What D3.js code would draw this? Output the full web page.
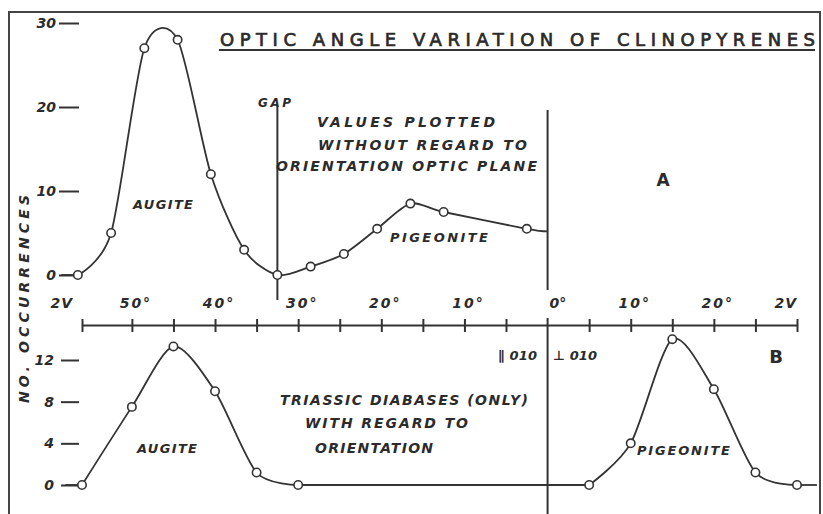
<!DOCTYPE html>
<html>
<head>
<meta charset="utf-8">
<script src="https://cdn.jsdelivr.net/npm/d3@7"></script>
<style>
  body { margin: 0; background: #fff; }
  text { font-family: "DejaVu Sans", sans-serif; fill: #2b2b2b; }
  .hand { font-style: italic; font-weight: bold; }
</style>
</head>
<body>
<script>

// ================================ data
// 2V in degrees; A (all values) plotted on the left side of 0
var angleA = [56.5, 52.5, 48.5, 44.5, 40.5, 36.5, 32.5, 28.5, 24.5, 20.5, 16.5, 12.5, 2.5];
var countA = [0, 5, 27, 28, 12, 3, 0, 1, 2.5, 5.5, 8.5, 7.5, 5.5];
// line carried on to the 0 line
var endA = { angle: 0, count: 5.2 };
var gapAngle = 32.5;

// B: augite = parallel 010 (left), pigeonite = perp 010 (right)
var angleAugiteB = [56, 50, 45, 40, 35, 30];
var countAugiteB = [0, 7.5, 13.3, 9, 1.2, 0];
var anglePigeoniteB = [5, 10, 15, 20, 25, 30];
var countPigeoniteB = [0, 4, 14, 9.2, 1.2, 0];

// axis stuff
var xTickValues = [-56, -50, -45, -40, -35, -30, -25, -20, -15, -10, -5, 5, 10, 15, 20, 25, 30];
var xLabelValues = [-50, -40, -30, -20, -10, 10, 20];
var yTicksA = [0, 10, 20, 30];
var yTicksB = [0, 4, 8, 12];

// ================================ svg
var svgWidth = 823;
var svgHeight = 514;

var svg = d3.select("body")
  .append("svg")
  .attr("width", svgWidth)
  .attr("height", svgHeight);

svg.append("rect")
  .attr("width", svgWidth).attr("height", svgHeight)
  .attr("fill", "#fff");

// frame (bottom edge falls outside the picture)
svg.append("rect")
  .attr("x", 9).attr("y", 12)
  .attr("width", 811).attr("height", 520)
  .attr("fill", "none")
  .attr("stroke", "#444")
  .attr("stroke-width", 2);

// ================================ scales
// negative = left of 0 line
var x = d3.scaleLinear().domain([-56, 30]).range([82, 797]);
var yA = d3.scaleLinear().domain([0, 30]).range([275, 23]);
var yB = d3.scaleLinear().domain([0, 12]).range([485, 360]);

var ink = "#333";

// ================================ middle 2V axis
var xAxis = d3.axisBottom(x)
  .tickValues(xTickValues)
  .tickSizeInner(7)
  .tickSizeOuter(0)
  .tickFormat("");

var xAxisG = svg.append("g")
  .attr("transform", "translate(0, 325)")
  .call(xAxis);
xAxisG.select(".domain").attr("stroke", ink).attr("stroke-width", 2);
xAxisG.selectAll(".tick line")
  .attr("y1", -6)
  .attr("stroke", ink)
  .attr("stroke-width", 2);

svg.selectAll(".xlab")
  .data(xLabelValues)
  .enter()
  .append("text")
  .attr("class", "xlab hand")
  .attr("x", d => x(d) + 4)
  .attr("y", 308)
  .attr("text-anchor", "middle")
  .attr("font-size", 14)
  .attr("letter-spacing", 2)
  .text(d => Math.abs(d) + "°");

svg.append("text").attr("class", "hand")
  .attr("x", x(0) + 2).attr("y", 308)
  .attr("font-size", 14)
  .text("0°");

svg.append("text").attr("class", "hand")
  .attr("x", x(-56) - 9).attr("y", 308)
  .attr("text-anchor", "end")
  .attr("font-size", 14)
  .attr("letter-spacing", 1)
  .text("2V");

svg.append("text").attr("class", "hand")
  .attr("x", x(30)).attr("y", 308)
  .attr("text-anchor", "end")
  .attr("font-size", 14)
  .attr("letter-spacing", 1)
  .text("2V");

// 0 line and gap line
svg.append("line")
  .attr("x1", x(0)).attr("x2", x(0))
  .attr("y1", 110).attr("y2", 290)
  .attr("stroke", ink).attr("stroke-width", 2);
svg.append("line")
  .attr("x1", x(0)).attr("x2", x(0))
  .attr("y1", 318).attr("y2", 514)
  .attr("stroke", ink).attr("stroke-width", 2);
svg.append("line")
  .attr("x1", x(-gapAngle)).attr("x2", x(-gapAngle))
  .attr("y1", 106).attr("y2", 300)
  .attr("stroke", ink).attr("stroke-width", 2);

// ================================ y axes
var leftA = d3.axisLeft(yA).tickValues(yTicksA).tickSize(20).tickPadding(3);
var gA = svg.append("g").attr("transform", "translate(79, 0)").call(leftA);

var leftB = d3.axisLeft(yB).tickValues(yTicksB).tickSize(18).tickPadding(7);
var gB = svg.append("g").attr("transform", "translate(79, 0)").call(leftB);

[gA, gB].forEach(function (g) {
  g.select(".domain").remove();
  g.selectAll(".tick line").attr("stroke", ink).attr("stroke-width", 2);
  g.selectAll(".tick text")
    .attr("class", "hand")
    .attr("font-family", null)
    .attr("font-size", 14)
    .attr("fill", "#2b2b2b");
});

svg.append("text").attr("class", "hand")
  .attr("transform", "translate(29, 299) rotate(-90)")
  .attr("text-anchor", "middle")
  .attr("font-size", 14)
  .attr("textLength", 208)
  .attr("lengthAdjust", "spacing")
  .text("NO. OCCURRENCES");

// ================================ curves
var smooth = d3.curveCardinal.tension(0.2);

var lineA = d3.line()
  .x(d => x(-d.angle))
  .y(d => yA(d.count))
  .curve(smooth);

var lineB = d3.line()
  .x(d => x(d.angle))
  .y(d => yB(d.count))
  .curve(smooth);

var straightB = d3.line().x(d => x(d.angle)).y(d => yB(d.count));
var straightA = d3.line().x(d => x(-d.angle)).y(d => yA(d.count));

var dataA = angleA.map((a, i) => ({ angle: a, count: countA[i] }));
var augB = angleAugiteB.map((a, i) => ({ angle: -a, count: countAugiteB[i] }));
var pigB = anglePigeoniteB.map((a, i) => ({ angle: a, count: countPigeoniteB[i] }));

// leading / trailing zero runs
var leadA = { angle: 58.5, count: 0 };
var leadB = { angle: -58, count: 0 };
var tailB = { angle: 32.4, count: 0 };

function draw(pts, gen) {
  svg.append("path")
    .datum(pts)
    .attr("d", gen)
    .attr("fill", "none").attr("stroke", ink).attr("stroke-width", 1.8);
}

draw([leadA, dataA[0]], straightA);
draw(dataA.concat([endA]), lineA);

draw([leadB, augB[0]], straightB);
draw(augB, lineB);
draw([augB[augB.length - 1], pigB[0]], straightB);
draw(pigB, lineB);
draw([pigB[pigB.length - 1], tailB], straightB);

// open circles
svg.selectAll(".ptA")
  .data(dataA)
  .enter()
  .append("circle")
  .attr("class", "ptA")
  .attr("cx", d => x(-d.angle))
  .attr("cy", d => yA(d.count))
  .attr("r", 4.2)
  .attr("fill", "#fff").attr("stroke", ink).attr("stroke-width", 1.6);

svg.selectAll(".ptB")
  .data(augB.concat(pigB))
  .enter()
  .append("circle")
  .attr("class", "ptB")
  .attr("cx", d => x(d.angle))
  .attr("cy", d => yB(d.count))
  .attr("r", 4.2)
  .attr("fill", "#fff").attr("stroke", ink).attr("stroke-width", 1.6);

// ================================ lettering
function label(txt, xPos, yPos, size, len, cls) {
  var t = svg.append("text")
    .attr("class", cls === undefined ? "hand" : cls)
    .attr("x", xPos).attr("y", yPos)
    .attr("font-size", size)
    .text(txt);
  if (len) t.attr("textLength", len).attr("lengthAdjust", "spacing");
  return t;
}

// title
label("OPTIC ANGLE VARIATION OF CLINOPYRENES", 220, 46, 18, 595, "")
  .attr("stroke", "#2b2b2b").attr("stroke-width", 0.7);
svg.append("line")
  .attr("x1", 219).attr("x2", 815)
  .attr("y1", 50).attr("y2", 50)
  .attr("stroke", ink).attr("stroke-width", 2);

label("GAP", 258, 107, 12, 33);
label("VALUES PLOTTED", 317, 127, 14, 178);
label("WITHOUT REGARD TO", 318, 150, 14, 209);
label("ORIENTATION OPTIC PLANE", 276, 171, 14, 261);
label("AUGITE", 133, 209, 13, 60);
label("PIGEONITE", 390, 242, 13, 98);

label("A", 663, 186, 17, 0, "").attr("font-weight", "bold").attr("text-anchor", "middle");
label("B", 776, 363, 18, 0, "").attr("font-weight", "bold").attr("text-anchor", "middle");

label("∥ 010", 498, 360, 13, 39);
label("⊥ 010", 553, 360, 13, 44);

label("TRIASSIC DIABASES (ONLY)", 280, 405, 14, 248);
label("WITH REGARD TO", 305, 428, 14, 163);
label("ORIENTATION", 315, 453, 14, 118);
label("AUGITE", 137, 453, 13, 60);
label("PIGEONITE", 637, 455, 13, 93);

</script>
</body>
</html>
